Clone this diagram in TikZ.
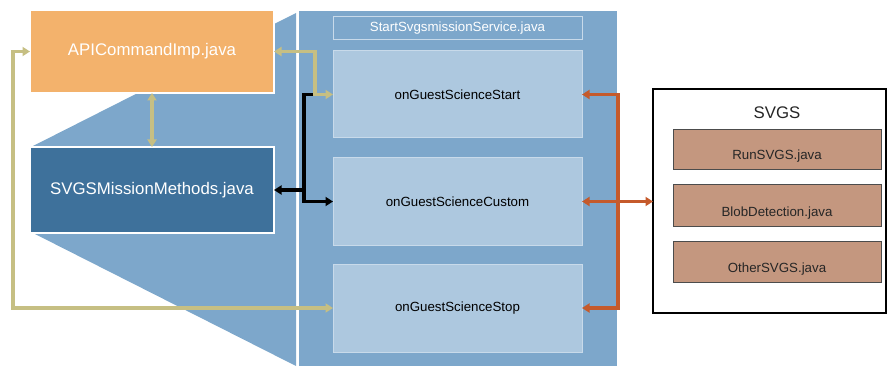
\documentclass[tikz,border=0pt]{standalone}
\usepackage{fontspec}
\setmainfont{Liberation Sans}
\usetikzlibrary{arrows.meta}

\definecolor{apiorange}{HTML}{F3B26C}
\definecolor{deepblue}{HTML}{3E719B}
\definecolor{panelblue}{HTML}{7DA7CB}
\definecolor{paleblue}{HTML}{ADC8DF}
\definecolor{paleedge}{HTML}{C8DAEA}
\definecolor{khaki}{HTML}{C6BF83}
\definecolor{rust}{HTML}{C55A2B}
\definecolor{clay}{HTML}{C4977F}

\tikzset{
  big/.style={font=\fontsize{16.8}{20}\selectfont},
  small/.style={font=\fontsize{13.3}{16}\selectfont},
  blockbox/.style={anchor=north west, inner sep=0pt, outer sep=0pt, draw=white, line width=1.5pt},
  methodbox/.style={blockbox, fill=paleblue, draw=paleedge, line width=1pt, small, text=black},
  claybox/.style={anchor=north west, inner sep=0pt, outer sep=0pt, fill=clay, draw=black!70, line width=0.8pt},
  tipboth/.style={{Triangle[length=7.5pt,width=9pt]}-{Triangle[length=7.5pt,width=9pt]}},
  tipend/.style={-{Triangle[length=7.5pt,width=9pt]}},
  kharrow/.style={draw=khaki, line width=3.4pt, tipboth},
  blkline/.style={draw=black, line width=3.2pt},
  rustline/.style={draw=rust, line width=3.4pt},
}

\begin{document}
\begin{tikzpicture}[x=1pt,y=-1pt]
  \useasboundingbox (0,0) rectangle (888,366);

  % perspective funnel behind the left-hand blocks
  \fill[panelblue] (296,13) -- (33,146) -- (33,233) -- (296,366) -- cycle;

  % service panel
  \node[anchor=north west, inner sep=0pt, outer sep=0pt, fill=panelblue,
        minimum width=318pt, minimum height=356pt] (panel) at (299,11) {};
  \node[anchor=north west, inner sep=0pt, outer sep=0pt, draw=paleedge, line width=1pt,
        fill=panelblue, minimum width=249pt, minimum height=23pt, small, text=white]
        (title) at (333,17) {StartSvgsmissionService.java};

  \node[methodbox, minimum width=249pt, minimum height=87pt] (start)  at (333,51)  {onGuestScienceStart};
  \node[methodbox, minimum width=249pt, minimum height=87pt] (custom) at (333,158) {onGuestScienceCustom};
  \node[methodbox, minimum width=249pt, minimum height=88pt] (stop)   at (333,264) {onGuestScienceStop};

  % left-hand blocks
  \node[blockbox, fill=apiorange, minimum width=244pt, minimum height=83pt, big, text=white]
        (api) at (30,10) {APICommandImp.java};
  \node[blockbox, fill=deepblue, minimum width=244pt, minimum height=86pt, big, text=white]
        (mission) at (30,147) {SVGSMissionMethods.java};

  % SVGS group
  \node[anchor=north west, inner sep=0pt, outer sep=0pt, draw=black, line width=1.8pt, fill=white,
        minimum width=233pt, minimum height=224pt] (svgs) at (653,89) {};
  \node[big, text=black!85] (svgstitle) at (777,113) {SVGS};
  \node[claybox, minimum width=208pt, minimum height=40pt] (run)   at (673,129) {};
  \node[claybox, minimum width=208pt, minimum height=42pt] (blob)  at (673,184) {};
  \node[claybox, minimum width=208pt, minimum height=41pt] (other) at (673,241) {};
  \node[small, text=black!85] (runlbl)   at ([yshift=-7pt]run.center)   {RunSVGS.java};
  \node[small, text=black!85] (bloblbl)  at ([yshift=-8pt]blob.center)  {BlobDetection.java};
  \node[small, text=black!85] (otherlbl) at ([yshift=-7.5pt]other.center) {OtherSVGS.java};

  % bend points of the connectors
  \coordinate (kbend) at (315,0);
  \coordinate (kleft) at (13,0);
  \coordinate (bbend) at (304,0);
  \coordinate (rbend) at (618,0);

  % khaki connectors
  \draw[kharrow] (api.east) -| (kbend |- start.west) -- (start.west);
  \draw[kharrow] (api.south) -- (mission.north);
  \draw[kharrow] (api.west) -| (kleft |- stop.west) -- (stop.west);

  % black connectors
  \draw[blkline, tipend]
        (313,94.5) -- (bbend |- start.west) -- (bbend |- custom.west) -- (custom.west);
  \draw[blkline, tipend] (bbend |- mission.east) -- (mission.east);

  % rust connectors
  \draw[rustline, tipboth]
        (start.east) -- (rbend |- start.east) -- (rbend |- stop.east) -- (stop.east);
  \draw[rustline, tipend] (rbend |- custom.east) -- (custom.east);
  \draw[rustline, tipend] (rbend |- custom.east) -- (svgs.west |- custom.east);
\end{tikzpicture}
\end{document}
